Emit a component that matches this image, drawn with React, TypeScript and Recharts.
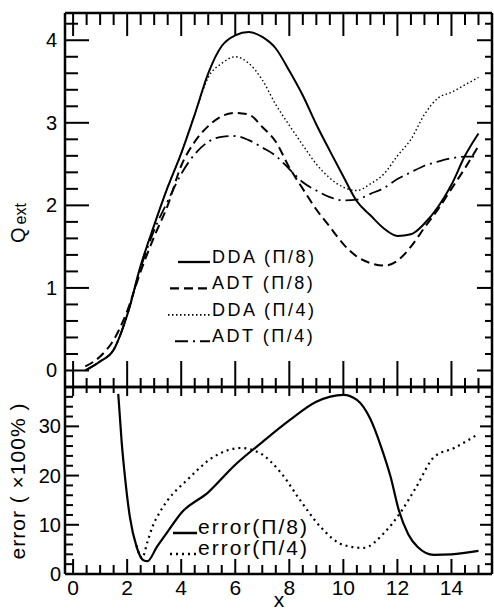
import React from 'react';
import { LineChart, Line, XAxis, YAxis, Legend, ReferenceLine } from 'recharts';

// top panel: extinction efficiency vs size parameter x
const qX = [0.45, 1, 1.5, 2, 2.5, 3, 3.5, 4, 4.5, 5, 5.5, 6, 6.5, 7, 7.5, 8, 8.5, 9, 9.5, 10, 10.5, 11, 11.5, 12, 12.5, 13, 13.5, 14, 14.5, 15];
const ddaPi8 = [0, 0.11, 0.25, 0.67, 1.27, 1.76, 2.22, 2.63, 3.1, 3.6, 3.93, 4.06, 4.1, 4.04, 3.9, 3.63, 3.33, 2.98, 2.66, 2.35, 2.05, 1.88, 1.72, 1.63, 1.65, 1.78, 1.98, 2.25, 2.6, 2.87];
const adtPi8 = [0.05, 0.17, 0.37, 0.72, 1.2, 1.62, 2.0, 2.48, 2.77, 2.96, 3.08, 3.12, 3.1, 2.95, 2.77, 2.46, 2.2, 1.95, 1.74, 1.53, 1.38, 1.3, 1.27, 1.33, 1.5, 1.73, 1.95, 2.2, 2.45, 2.72];
const ddaPi4 = [0, 0.11, 0.25, 0.67, 1.27, 1.76, 2.22, 2.63, 3.1, 3.55, 3.72, 3.8, 3.72, 3.52, 3.22, 2.97, 2.73, 2.5, 2.33, 2.22, 2.18, 2.26, 2.38, 2.6, 2.8, 3.1, 3.3, 3.37, 3.46, 3.55];
const adtPi4 = [0, 0.11, 0.25, 0.67, 1.24, 1.7, 2.05, 2.38, 2.62, 2.77, 2.83, 2.84, 2.79, 2.7, 2.6, 2.44, 2.28, 2.18, 2.1, 2.06, 2.07, 2.14, 2.21, 2.32, 2.4, 2.48, 2.53, 2.57, 2.59, 2.59];

// bottom panel: relative error
const errPi8X = [1.67, 1.8, 1.92, 2.1, 2.35, 2.6, 2.75, 3.1, 3.5, 4, 5, 6, 7, 8, 9, 10, 10.5, 11, 11.4, 11.75, 12.05, 12.4, 12.75, 13.35, 14, 15];
const errPi8 = [36.6, 26.6, 19.7, 11.6, 5.5, 2.8, 2.6, 5.5, 8.6, 12.4, 16.6, 22.2, 26.8, 31.2, 35, 36.4, 35.4, 31.5, 25.8, 19.7, 13, 8.1, 5.5, 3.9, 4.0, 4.7];
const errPi4X = [2.35, 2.55, 2.75, 2.95, 3.15, 3.5, 4.2, 5.2, 6.2, 6.9, 7.7, 8.4, 9.15, 10, 10.75, 11.5, 12.1, 12.7, 13.36, 14.1, 14.95];
const errPi4 = [5.8, 3.2, 6.5, 9.8, 12, 15, 19, 23.8, 25.6, 24.6, 20.5, 15, 9.6, 5.9, 5.3, 8.3, 12.4, 17.7, 23.8, 25.6, 28.3];

// ticks
const xMajor = [0, 2, 4, 6, 8, 10, 12, 14];
const qMajor = [0, 1, 2, 3, 4];
const errMajor = [0, 10, 20, 30];
const xTicks = Array.from({ length: 32 }, (_, i) => i * 0.5);
const qTicks = Array.from({ length: 22 }, (_, i) => +(i * 0.2).toFixed(1));
const errTicks = Array.from({ length: 19 }, (_, i) => i * 2);

const qLegendOrder = ['DDA (Π/8)', 'ADT (Π/8)', 'DDA (Π/4)', 'ADT (Π/4)'];
const errLegendOrder = ['error(Π/8)', 'error(Π/4)'];

const FONT = '"Liberation Sans", Arial, sans-serif';
const X_DOMAIN: [number, number] = [-0.3, 15.5];
const Q_DOMAIN: [number, number] = [-0.2, 4.33];
const ERR_DOMAIN: [number, number] = [0, 38];

// plot sizes in px, to turn tick lengths into data units
const PLOT_W = 427;
const TOP_H = 374;
const BOT_H = 187;
const xUnit = (X_DOMAIN[1] - X_DOMAIN[0]) / PLOT_W;
const qUnit = (Q_DOMAIN[1] - Q_DOMAIN[0]) / TOP_H;
const errUnit = (ERR_DOMAIN[1] - ERR_DOMAIN[0]) / BOT_H;

const zip = (xs: number[], ys: number[]) => xs.map((x, i) => ({ x, y: ys[i] }));
const isMajor = (majors: number[], v: number) => majors.some((m) => Math.abs(m - v) < 1e-6);

const styles: Record<string, { dash?: string; width: number; start: number }> = {
  'DDA (Π/8)': { width: 2, start: 18 },
  'ADT (Π/8)': { dash: '9 5', width: 2, start: 10 },
  'DDA (Π/4)': { dash: '1.5 2.5', width: 1.4, start: 8 },
  'ADT (Π/4)': { dash: '13 5 2 5', width: 1.8, start: 15 },
  'error(Π/8)': { width: 2.2, start: 13 },
  'error(Π/4)': { dash: '2 4', width: 2.2, start: 10 },
};

// inward tick marks as short reference segments
const xTickMarks = (key: string, at: number, dir: number, majorLen: number, minorLen: number, unit: number) =>
  xTicks.map((v) => {
    const len = (isMajor(xMajor, v) ? majorLen : minorLen) * unit * dir;
    return (
      <ReferenceLine
        key={`${key}${v}`}
        xAxisId="b"
        yAxisId="l"
        segment={[{ x: v, y: at }, { x: v, y: at + len }]}
        stroke="#000"
        strokeWidth={2}
        ifOverflow="visible"
      />
    );
  });

const yTickMarks = (key: string, values: number[], majors: number[], at: number, dir: number, majorLen: number, minorLen: number) =>
  values.map((v) => {
    const len = (isMajor(majors, v) ? majorLen : minorLen) * xUnit * dir;
    return (
      <ReferenceLine
        key={`${key}${v}`}
        xAxisId="b"
        yAxisId="l"
        segment={[{ x: at, y: v }, { x: at + len, y: v }]}
        stroke="#000"
        strokeWidth={2}
        ifOverflow="visible"
      />
    );
  });

const makeLabel =
  (side: 'bottom' | 'left', majors: number[], dx: number, dy: number, size: number) =>
  (props: any) => {
    const x = Number(props.x);
    const y = Number(props.y);
    const v = Number(props.payload?.value);
    if (!isMajor(majors, v)) return <g />;
    return (
      <text
        x={x + dx}
        y={y + dy}
        textAnchor={side === 'left' ? 'end' : 'middle'}
        fontSize={size}
        fontFamily={FONT}
        fill="#000"
      >
        {v}
      </text>
    );
  };

const axisLine = { stroke: '#000', strokeWidth: 2.5 };

const LegendBox = ({ payload, order, rowH, size, textX, lineEnd, firstBase, spacing }: any) => {
  const items = [...(payload || [])].sort(
    (a: any, b: any) => order.indexOf(a.value) - order.indexOf(b.value)
  );
  return (
    <svg width={200} height={firstBase + rowH * items.length} style={{ overflow: 'visible' }}>
      {items.map((entry: any, i: number) => {
        const s = styles[entry.value];
        const base = firstBase + rowH * i;
        return (
          <g key={entry.value}>
            <line
              x1={s.start}
              x2={lineEnd}
              y1={base - 1}
              y2={base - 1}
              stroke="#000"
              strokeWidth={s.width + 0.3}
              strokeDasharray={s.dash}
            />
            <text x={textX} y={base} fontSize={size} fontFamily={FONT} letterSpacing={spacing} fill="#000">
              {entry.value}
            </text>
          </g>
        );
      })}
    </svg>
  );
};

const QLabel = () => {
  const cy = 223;
  const cx = 25;
  return (
    <text transform={`rotate(-90 ${cx} ${cy})`} x={cx} y={cy} textAnchor="middle" fontFamily={FONT} fill="#000">
      <tspan fontSize={20}>Q</tspan>
      <tspan fontSize={16} dx={3} dy={1}>ext</tspan>
    </text>
  );
};

const ErrLabel = () => {
  const cy = 111;
  const cx = 25;
  return (
    <text
      transform={`rotate(-90 ${cx} ${cy})`}
      x={cx}
      y={cy}
      textAnchor="middle"
      fontFamily={FONT}
      fontSize={21}
      letterSpacing={1}
      fill="#000"
    >
      error ( ×100% )
    </text>
  );
};

const XLabel = () => (
  <text x={279} y={237} textAnchor="middle" fontFamily={FONT} fontSize={21} fill="#000">
    x
  </text>
);

const frameAxisProps = {
  type: 'number' as const,
  allowDataOverflow: true,
  interval: 0 as const,
  tickSize: 0,
  tickMargin: 0,
  tickLine: false,
  axisLine,
};

const App: React.FC = () => {
  const ddaPi8Data = zip(qX, ddaPi8);
  const adtPi8Data = zip(qX, adtPi8);
  const ddaPi4Data = zip(qX, ddaPi4);
  const adtPi4Data = zip(qX, adtPi4);
  const errPi8Data = zip(errPi8X, errPi8);
  const errPi4Data = zip(errPi4X, errPi4);

  return (
    <div style={{ position: 'absolute', left: 0, top: 0, width: 494, height: 611, background: '#fff' }}>
      <div style={{ position: 'absolute', left: 0, top: 0 }}>
        <LineChart width={494} height={400} margin={{ top: 12, right: 1, bottom: 12, left: 64 }}>
          <XAxis xAxisId="b" dataKey="x" domain={X_DOMAIN} ticks={xTicks} height={1} tick={false} {...frameAxisProps} />
          <XAxis xAxisId="t" orientation="top" domain={X_DOMAIN} ticks={xTicks} height={1} tick={false} {...frameAxisProps} />
          <YAxis
            yAxisId="l"
            domain={Q_DOMAIN}
            ticks={qTicks}
            width={1}
            tick={makeLabel('left', qMajor, -8, 7, 20)}
            label={<QLabel />}
            {...frameAxisProps}
          />
          <YAxis yAxisId="r" orientation="right" domain={Q_DOMAIN} ticks={qTicks} width={1} tick={false} {...frameAxisProps} />
          {xTickMarks('qb', Q_DOMAIN[0], 1, 26, 9, qUnit)}
          {xTickMarks('qt', Q_DOMAIN[1], -1, 23, 12, qUnit)}
          {yTickMarks('ql', qTicks, qMajor, X_DOMAIN[0], 1, 24, 13)}
          {yTickMarks('qr', qTicks, qMajor, X_DOMAIN[1], -1, 15, 7)}
          <Legend
            layout="vertical"
            align="center"
            verticalAlign="middle"
            wrapperStyle={{ position: 'absolute', left: 160, top: 240, width: 200 }}
            content={(p: any) => (
              <LegendBox {...p} order={qLegendOrder} rowH={26.4} size={18} textX={52} lineEnd={50} firstBase={23} spacing={2.5} />
            )}
          />
          <Line xAxisId="b" yAxisId="l" data={ddaPi8Data} dataKey="y" name="DDA (Π/8)" type="monotone" stroke="#000" strokeWidth={2} dot={false} isAnimationActive={false} />
          <Line xAxisId="b" yAxisId="l" data={adtPi8Data} dataKey="y" name="ADT (Π/8)" type="monotone" stroke="#000" strokeWidth={2} strokeDasharray="9 5" dot={false} isAnimationActive={false} />
          <Line xAxisId="b" yAxisId="l" data={ddaPi4Data} dataKey="y" name="DDA (Π/4)" type="monotone" stroke="#000" strokeWidth={1.4} strokeDasharray="1.5 2.5" dot={false} isAnimationActive={false} />
          <Line xAxisId="b" yAxisId="l" data={adtPi4Data} dataKey="y" name="ADT (Π/4)" type="monotone" stroke="#000" strokeWidth={1.8} strokeDasharray="13 5 2 5" dot={false} isAnimationActive={false} />
        </LineChart>
      </div>
      <div style={{ position: 'absolute', left: 0, top: 370 }}>
        <LineChart width={494} height={241} margin={{ top: 16, right: 1, bottom: 36, left: 64 }}>
          <XAxis
            xAxisId="b"
            dataKey="x"
            domain={X_DOMAIN}
            ticks={xTicks}
            height={1}
            tick={makeLabel('bottom', xMajor, 0, 21, 21)}
            label={<XLabel />}
            {...frameAxisProps}
          />
          <XAxis xAxisId="t" orientation="top" domain={X_DOMAIN} ticks={xTicks} height={1} tick={false} {...frameAxisProps} />
          <YAxis
            yAxisId="l"
            domain={ERR_DOMAIN}
            ticks={errTicks}
            width={1}
            tick={makeLabel('left', errMajor, -4, 7, 20)}
            label={<ErrLabel />}
            {...frameAxisProps}
          />
          <YAxis yAxisId="r" orientation="right" domain={ERR_DOMAIN} ticks={errTicks} width={1} tick={false} {...frameAxisProps} />
          {xTickMarks('eb', ERR_DOMAIN[0], 1, 15, 9, errUnit)}
          {xTickMarks('et', ERR_DOMAIN[1], -1, 9, 6, errUnit)}
          {yTickMarks('el', errTicks, errMajor, X_DOMAIN[0], 1, 14, 8)}
          {yTickMarks('er', errTicks, errMajor, X_DOMAIN[1], -1, 12, 7)}
          <Legend
            layout="vertical"
            align="center"
            verticalAlign="middle"
            wrapperStyle={{ position: 'absolute', left: 160, top: 140, width: 200 }}
            content={(p: any) => (
              <LegendBox {...p} order={errLegendOrder} rowH={21} size={21} textX={38} lineEnd={37} firstBase={24} spacing={2} />
            )}
          />
          <Line xAxisId="b" yAxisId="l" data={errPi8Data} dataKey="y" name="error(Π/8)" type="monotone" stroke="#000" strokeWidth={2.2} dot={false} isAnimationActive={false} />
          <Line xAxisId="b" yAxisId="l" data={errPi4Data} dataKey="y" name="error(Π/4)" type="monotone" stroke="#000" strokeWidth={2.2} strokeDasharray="2 4" dot={false} isAnimationActive={false} />
        </LineChart>
      </div>
    </div>
  );
};

export default App;
